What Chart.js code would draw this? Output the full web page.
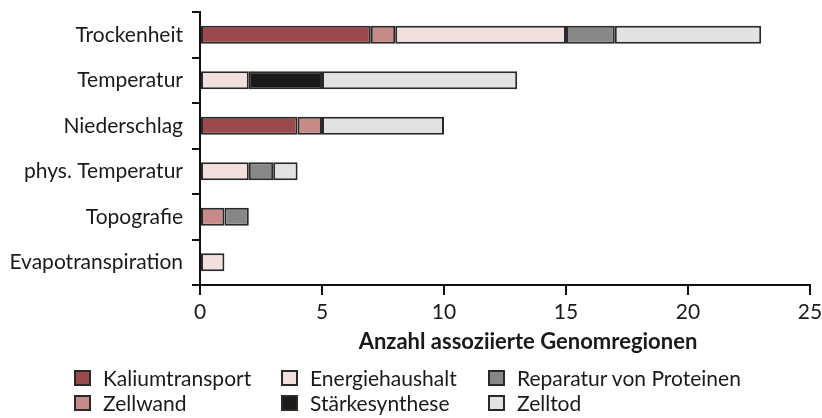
<!DOCTYPE html>
<html lang="de">
<head>
<meta charset="utf-8">
<title>Anzahl assoziierte Genomregionen</title>
<script src="https://cdn.jsdelivr.net/npm/chart.js@4/dist/chart.umd.min.js"></script>
<style>
  body { margin: 0; background: #fff; font-family: Lato, "Open Sans", sans-serif; color: #1a1a1a; }
  .wrap { position: relative; width: 822px; height: 418px; }
  .axis-title { position: absolute; left: 528px; top: 327px; transform: translateX(-50%); font-size: 22px; font-weight: bold; white-space: nowrap; }
  .legend-item { position: absolute; font-size: 21px; line-height: 20px; white-space: nowrap; }
  .legend-box { position: absolute; left: 0; top: 2px; width: 17px; height: 16px; border: 2px solid #2a2a2a; box-sizing: border-box; }
  .legend-item span.label { position: absolute; left: 29px; top: 0; }
</style>
</head>
<body>
<div class="wrap">
  <canvas id="genomChart"></canvas>
  <div class="axis-title">Anzahl assoziierte Genomregionen</div>
  <div id="legend"></div>
</div>
<script>
  // Data
  const categories = ["Trockenheit", "Temperatur", "Niederschlag", "phys. Temperatur", "Topografie", "Evapotranspiration"];
  const kaliumtransport = [7, 0, 4, 0, 0, 0];
  const zellwand = [1, 0, 1, 0, 1, 0];
  const energiehaushalt = [7, 2, 0, 2, 0, 1];
  const staerkesynthese = [0, 3, 0, 0, 0, 0];
  const reparatur = [2, 0, 0, 1, 1, 0];
  const zelltod = [6, 8, 5, 1, 0, 0];
  const xTicks = [0, 5, 10, 15, 20, 25];

  const borderDark = "#2a2a2a";

  const series = [
    { label: "Kaliumtransport", data: kaliumtransport, color: "#9a494d" },
    { label: "Zellwand", data: zellwand, color: "#c68b88" },
    { label: "Energiehaushalt", data: energiehaushalt, color: "#f1e0de" },
    { label: "Stärkesynthese", data: staerkesynthese, color: "#1c1a19" },
    { label: "Reparatur von Proteinen", data: reparatur, color: "#878787" },
    { label: "Zelltod", data: zelltod, color: "#e2e2e2" },
  ];

  const ctx = document.getElementById("genomChart");

  new Chart(ctx, {
    type: "bar",
    data: {
      labels: categories,
      datasets: series.map((s) => ({
        label: s.label,
        data: s.data,
        // empty segments must not leave any hairline
        backgroundColor: (c) => (c.raw ? s.color : "rgba(0,0,0,0)"),
        borderColor: borderDark,
        borderWidth: (c) => (c.raw ? 2 : 0),
        borderSkipped: false,
        inflateAmount: 0,
        barPercentage: 0.4,
        categoryPercentage: 1,
      })),
    },
    options: {
      indexAxis: "y",
      responsive: true,
      maintainAspectRatio: false,
      animation: false,
      layout: {
        padding: { top: 12, right: 12, bottom: 0, left: 0 },
      },
      plugins: {
        legend: { display: false },
        tooltip: { enabled: false },
      },
      scales: {
        x: {
          stacked: true,
          min: 0,
          max: 25,
          afterBuildTicks: (scale) => {
            scale.ticks = xTicks.map((v) => ({ value: v }));
          },
          afterFit: (scale) => {
            scale.height = 133;
            // "25" may hang into the right padding
            scale.paddingLeft = 0;
            scale.paddingRight = 0;
          },
          border: { color: "#111", width: 2 },
          grid: {
            drawOnChartArea: false,
            drawTicks: true,
            tickLength: 10,
            color: "#111",
            lineWidth: 2,
          },
          ticks: {
            color: "#1a1a1a",
            padding: 5,
            font: { family: "Lato", size: 21 },
          },
        },
        y: {
          stacked: true,
          afterFit: (scale) => {
            scale.width = 200;
            // labels sit in the middle of each band, no extra room needed
            scale.paddingTop = 0;
            scale.paddingBottom = 0;
          },
          border: { color: "#111", width: 2 },
          grid: {
            offset: true,
            drawOnChartArea: false,
            drawTicks: true,
            tickLength: 8,
            color: "#111",
            lineWidth: 2,
          },
          ticks: {
            color: "#1a1a1a",
            padding: 9,
            font: { family: "Lato", size: 21 },
          },
        },
      },
    },
  });

  // Legend in three columns, filled top to bottom
  const legend = document.getElementById("legend");
  const colX = [74, 281, 488];
  const rowY = [368, 393];
  series.forEach((s, i) => {
    const item = document.createElement("div");
    item.className = "legend-item";
    item.style.left = colX[Math.floor(i / 2)] + "px";
    item.style.top = rowY[i % 2] + "px";
    const box = document.createElement("div");
    box.className = "legend-box";
    box.style.background = s.color;
    const label = document.createElement("span");
    label.className = "label";
    label.textContent = s.label;
    item.appendChild(box);
    item.appendChild(label);
    legend.appendChild(item);
  });
</script>
</body>
</html>
